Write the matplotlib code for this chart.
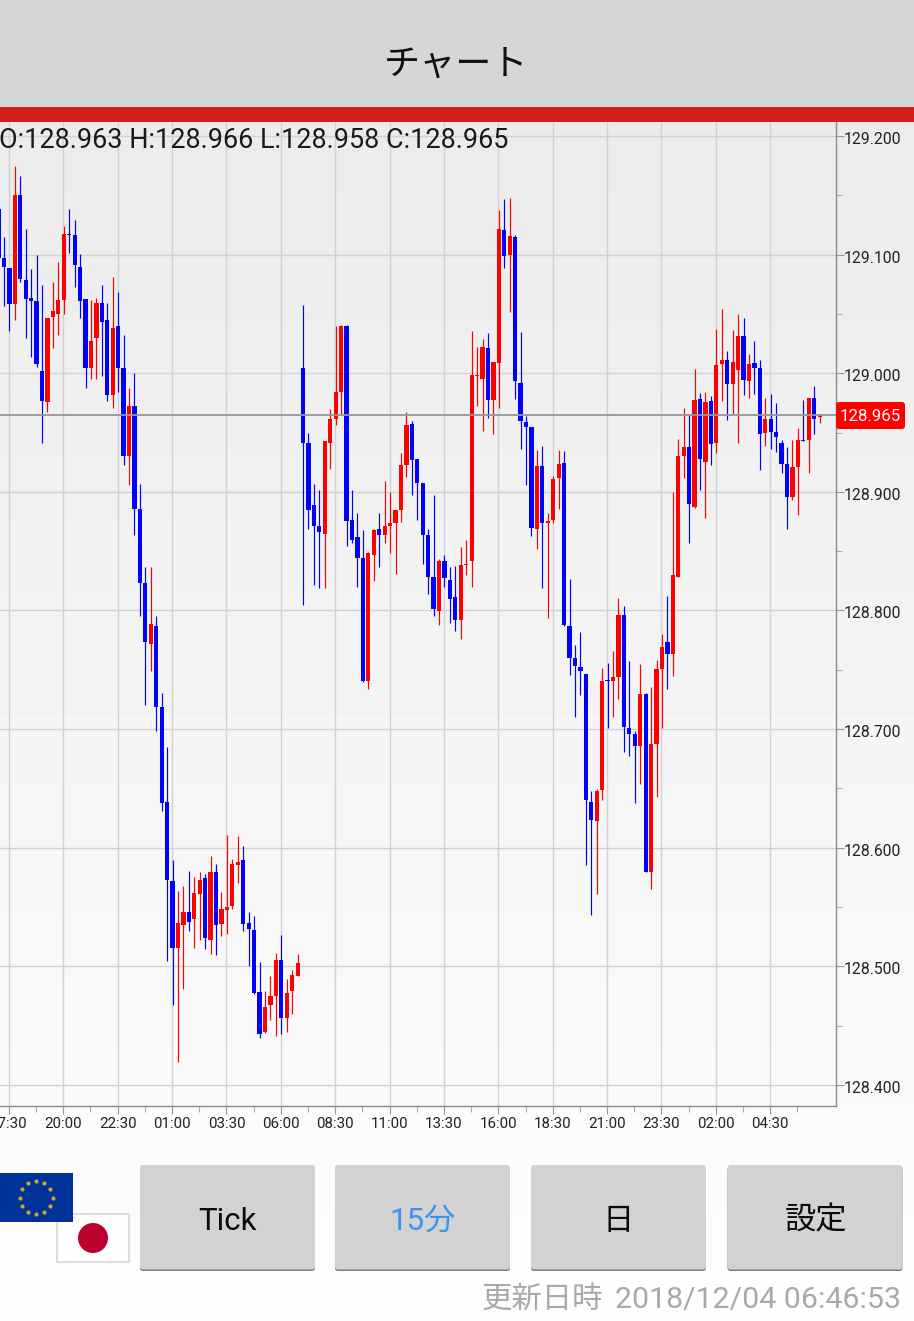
"""
Recreates the EUR/JPY 15 minute candle chart screen of the FX app.
"""
import numpy as np
import matplotlib
matplotlib.use('Agg')
import matplotlib.pyplot as plt
from matplotlib.patches import Rectangle, Circle, FancyBboxPatch
from matplotlib.transforms import ScaledTranslation

plt.rcParams['font.family'] = ['Roboto', 'Noto Sans CJK JP', 'DejaVu Sans']

W, H = 914, 1321

# Candle values
opens = [
    129.140, 129.099, 129.090, 129.060, 129.152, 129.080, 129.065, 129.062, 129.003, 128.977,
    129.049, 129.051, 129.063, 129.119, 129.118, 129.091, 129.064, 129.006, 129.031, 129.061,
    129.046, 128.983, 129.041, 129.006, 128.932, 128.974, 128.887, 128.825, 128.773, 128.788,
    128.720, 128.640, 128.573, 128.517, 128.536, 128.547, 128.541, 128.562, 128.576, 128.524,
    128.581, 128.537, 128.549, 128.552, 128.587, 128.591, 128.538, 128.532, 128.480, 128.446,
    128.469, 128.476, 128.507, 128.458, 128.481, 128.493, 129.006, 128.943, 128.890, 128.873,
    128.866, 128.943, 128.963, 128.986, 129.041, 128.878, 128.863, 128.846, 128.742, 128.848,
    128.870, 128.865, 128.873, 128.875, 128.886, 128.924, 128.959, 128.929, 128.909, 128.865,
    128.830, 128.801, 128.843, 128.827, 128.813, 128.793, 128.840, 128.843, 128.999, 128.997,
    129.023, 128.979, 129.010, 129.122, 129.101, 129.116, 128.993, 128.960, 128.956, 128.870,
    128.923, 128.875, 128.878, 128.913, 128.926, 128.788, 128.761, 128.754, 128.748, 128.640,
    128.624, 128.650, 128.743, 128.742, 128.745, 128.798, 128.702, 128.697, 128.687, 128.731,
    128.581, 128.689, 128.752, 128.775, 128.765, 128.830, 128.932, 128.939, 128.889, 128.980,
    128.927, 128.978, 128.943, 129.009, 129.013, 128.992, 129.004, 129.033, 128.995, 129.010,
    129.006, 128.951, 128.963, 128.952, 128.943, 128.925, 128.897, 128.922, 128.945, 128.945,
    128.981, 128.9645,
]
highs = [
    129.140, 129.116, 129.090, 129.176, 129.168, 129.123, 129.089, 129.101, 129.076, 129.048,
    129.078, 129.095, 129.126, 129.140, 129.131, 129.102, 129.064, 129.063, 129.065, 129.076,
    129.061, 129.083, 129.070, 129.034, 128.989, 129.002, 128.908, 128.838, 128.838, 128.797,
    128.732, 128.686, 128.591, 128.565, 128.569, 128.582, 128.577, 128.581, 128.579, 128.594,
    128.588, 128.564, 128.612, 128.592, 128.611, 128.603, 128.547, 128.544, 128.505, 128.481,
    128.493, 128.513, 128.528, 128.491, 128.498, 128.512, 129.059, 128.951, 128.908, 128.903,
    128.944, 128.971, 129.041, 129.042, 129.042, 128.903, 128.884, 128.869, 128.851, 128.870,
    128.884, 128.911, 128.901, 128.886, 128.934, 128.969, 128.961, 128.929, 128.909, 128.870,
    128.899, 128.845, 128.848, 128.838, 128.839, 128.855, 128.861, 129.037, 129.024, 129.030,
    129.035, 129.011, 129.139, 129.148, 129.149, 129.118, 129.036, 128.965, 128.956, 128.937,
    128.940, 128.884, 128.915, 128.937, 128.936, 128.828, 128.772, 128.783, 128.748, 128.649,
    128.651, 128.753, 128.757, 128.767, 128.812, 128.805, 128.759, 128.700, 128.756, 128.732,
    128.737, 128.760, 128.782, 128.814, 128.901, 128.946, 128.972, 128.966, 129.005, 128.985,
    128.986, 128.982, 129.039, 129.056, 129.020, 129.038, 129.051, 129.048, 129.018, 129.029,
    129.013, 128.981, 128.984, 128.976, 128.945, 128.939, 128.945, 128.955, 128.979, 128.981,
    128.991, 128.9675,
]
lows = [
    129.099, 129.058, 129.037, 129.046, 129.078, 129.031, 129.015, 129.007, 128.943, 128.969,
    129.023, 129.034, 129.051, 129.103, 129.074, 129.048, 128.989, 128.997, 128.997, 128.999,
    128.978, 128.972, 128.986, 128.924, 128.907, 128.865, 128.797, 128.722, 128.750, 128.700,
    128.632, 128.506, 128.469, 128.421, 128.482, 128.531, 128.517, 128.524, 128.516, 128.512,
    128.511, 128.527, 128.529, 128.550, 128.572, 128.531, 128.502, 128.478, 128.441, 128.445,
    128.456, 128.443, 128.444, 128.446, 128.461, 128.493, 128.806, 128.870, 128.823, 128.820,
    128.820, 128.921, 128.958, 128.967, 128.856, 128.858, 128.821, 128.741, 128.735, 128.826,
    128.838, 128.858, 128.850, 128.832, 128.876, 128.914, 128.899, 128.878, 128.841, 128.815,
    128.797, 128.789, 128.821, 128.791, 128.784, 128.777, 128.831, 128.821, 128.974, 128.953,
    128.964, 128.950, 128.972, 129.090, 129.053, 128.980, 128.938, 128.907, 128.864, 128.853,
    128.820, 128.795, 128.875, 128.887, 128.788, 128.747, 128.712, 128.730, 128.587, 128.545,
    128.562, 128.642, 128.702, 128.712, 128.727, 128.682, 128.679, 128.639, 128.655, 128.581,
    128.567, 128.644, 128.702, 128.735, 128.746, 128.830, 128.913, 128.858, 128.888, 128.903,
    128.879, 128.924, 128.934, 128.978, 128.962, 128.967, 128.943, 128.983, 128.981, 128.984,
    128.920, 128.940, 128.938, 128.935, 128.917, 128.870, 128.895, 128.882, 128.944, 128.917,
    128.950, 128.9595,
]
closes = [
    129.099, 129.091, 129.060, 129.152, 129.081, 129.064, 129.062, 129.009, 128.978, 129.048,
    129.054, 129.063, 129.119, 129.118, 129.093, 129.062, 129.006, 129.029, 129.061, 129.045,
    128.983, 129.040, 129.006, 128.932, 128.974, 128.887, 128.825, 128.775, 128.790, 128.720,
    128.639, 128.574, 128.517, 128.538, 128.547, 128.539, 128.563, 128.574, 128.525, 128.581,
    128.536, 128.550, 128.551, 128.588, 128.589, 128.537, 128.533, 128.479, 128.444, 128.467,
    128.476, 128.507, 128.458, 128.479, 128.494, 128.504, 128.943, 128.886, 128.873, 128.868,
    128.944, 128.963, 128.986, 129.041, 128.877, 128.861, 128.846, 128.742, 128.850, 128.869,
    128.865, 128.873, 128.875, 128.886, 128.924, 128.958, 128.928, 128.909, 128.865, 128.830,
    128.803, 128.843, 128.829, 128.811, 128.793, 128.840, 128.841, 129.000, 129.000, 129.024,
    128.979, 129.011, 129.123, 129.100, 129.117, 128.995, 128.961, 128.956, 128.871, 128.923,
    128.875, 128.877, 128.912, 128.925, 128.789, 128.761, 128.755, 128.750, 128.642, 128.625,
    128.649, 128.742, 128.742, 128.745, 128.798, 128.703, 128.697, 128.687, 128.731, 128.581,
    128.689, 128.752, 128.771, 128.765, 128.831, 128.932, 128.939, 128.891, 128.979, 128.929,
    128.977, 128.942, 129.008, 129.013, 128.992, 129.011, 129.033, 128.996, 129.009, 129.006,
    128.950, 128.963, 128.952, 128.948, 128.925, 128.897, 128.922, 128.945, 128.944, 128.981,
    128.963, 128.9665,
]

# The values above were read against a grid 1.5 pips too low
read_offset = -0.0015

# Figures printed on the screen
last_price = 128.965
ohlc_text = 'O:128.963 H:128.966 L:128.958 C:128.965'

# Time axis labels, one every 10 candles
time_labels = ['17:30', '20:00', '22:30', '01:00', '03:30', '06:00', '08:30', '11:00',
               '13:30', '16:00', '18:30', '21:00', '23:30', '02:00', '04:30']
price_ticks = [128.4, 128.5, 128.6, 128.7, 128.8, 128.9, 129.0, 129.1, 129.2]
button_labels = ['Tick', '15分', '日', '設定']

fig = plt.figure(figsize=(W / 100, H / 100), dpi=100)

# Page background gradient
ax_bg = fig.add_axes([0, 0, 1, 1], zorder=0)
ax_bg.set_axis_off()
gradient = np.interp(np.arange(H), [0, 122, 1107, H], [235, 235, 250, 254]).reshape(-1, 1)
ax_bg.imshow(gradient, cmap='gray', vmin=0, vmax=255, aspect='auto', extent=(0, W, H, 0))

# Candle chart, placed in pixels
chart_left, chart_right, chart_top, chart_bottom = 0, 836, 122, 1106
ax = fig.add_axes([chart_left / W, 1 - chart_bottom / H,
                   (chart_right - chart_left) / W, (chart_bottom - chart_top) / H], zorder=1)
ax.patch.set_alpha(0)

# candles sit half a pixel right of their time grid
idx = np.arange(len(opens)) + 0.09
opens_a = np.array(opens) + read_offset
closes_a = np.array(closes) + read_offset
highs_a = np.array(highs) + read_offset
lows_a = np.array(lows) + read_offset
colors = ['#ff0000' if c >= o else '#0000ff' for o, c in zip(opens, closes)]

ax.vlines(idx, lows_a, highs_a, colors=colors, linewidth=0.85, zorder=3)
ax.bar(idx, np.abs(closes_a - opens_a), bottom=np.minimum(opens_a, closes_a),
       width=0.78, color=colors, linewidth=0, zorder=4)

ax.axhline(last_price, color='#969696', linewidth=1.3, zorder=5)

# x position: candle 12 (20:00) sits at 63.3 px, 5.438 px per candle
ax.set_xlim((chart_left - 63.3) / 5.438 + 12, (chart_right - 63.3) / 5.438 + 12)
# y position: 129.000 sits at 373.2 px, 1186 px per yen
ax.set_ylim(129.0 - (chart_bottom - 373.2) / 1186, 129.0 + (373.2 - chart_top) / 1186)

ax.set_xticks(np.arange(2, 143, 10))
ax.set_xticklabels(time_labels, fontsize=10.8, color='#222222')
ax.set_xticks(np.arange(7, 148, 10), minor=True)
ax.yaxis.tick_right()
ax.set_yticks(price_ticks)
ax.set_yticklabels([f'{p:.3f}' for p in price_ticks], fontsize=11.3, color='#222222')
ax.set_yticks(np.arange(128.45, 129.2, 0.1), minor=True)
ax.tick_params(which='major', length=5.8, width=0.8, color='#999999')
ax.tick_params(which='minor', length=4.5, width=0.8, color='#aaaaaa')
ax.tick_params(axis='x', which='major', pad=2.0)
ax.tick_params(axis='y', which='major', pad=0)
ax.grid(True, which='major', color='#d2d2d2', linewidth=1.0, zorder=1)
ax.set_axisbelow(True)
for side in ['top', 'left']:
    ax.spines[side].set_visible(False)
for side in ['right', 'bottom']:
    ax.spines[side].set_color('#8c8c8c')
    ax.spines[side].set_linewidth(1.0)

# Price labels sit a little under their tick
label_shift = ScaledTranslation(0, -1.5 / 72, fig.dpi_scale_trans)
for label in ax.get_yticklabels():
    label.set_transform(label.get_transform() + label_shift)

# Screen furniture, drawn in pixel coordinates
ov = fig.add_axes([0, 0, 1, 1], zorder=2)
ov.set_xlim(0, W)
ov.set_ylim(H, 0)
ov.set_axis_off()
ov.patch.set_alpha(0)

ov.add_patch(Rectangle((0, 0), W, 107, color='#d6d6d6', linewidth=0))
ov.add_patch(Rectangle((0, 107), W, 15, color='#d3201a', linewidth=0))
ov.text(456.5, 65, 'チャート', ha='center', va='center', fontsize=26, color='#111111')

ov.text(-1, 140, ohlc_text, ha='left', va='center', fontsize=19.45, color='#1a1a1a')

ov.add_patch(FancyBboxPatch((836, 402), 69, 27, boxstyle='round,pad=0,rounding_size=3',
                            color='#ff0000', linewidth=0))
ov.text(870.5, 416.5, f'{last_price:.3f}', ha='center', va='center', fontsize=12.2, color='white')

# Flags
ov.add_patch(Rectangle((57, 1214), 72, 48, facecolor='white', edgecolor='#dddddd', linewidth=1.5))
ov.add_patch(Circle((93, 1238), 15, color='#bc002d', linewidth=0))
ov.add_patch(Rectangle((-1, 1173), 73.5, 49, color='#003399', linewidth=0))
star_angles = np.deg2rad(np.arange(0, 360, 30))
ov.scatter(36 + 16.5 * np.cos(star_angles), 1197.5 + 16.5 * np.sin(star_angles),
           marker='o', s=9, color='#c8a52c', linewidths=0)

# Buttons
button_left = [140, 335, 531, 727.5]
for left, label in zip(button_left, button_labels):
    ov.add_patch(FancyBboxPatch((left, 1167), 175, 104, boxstyle='round,pad=0,rounding_size=3',
                                color='#7c7c7c', linewidth=0))
    ov.add_patch(FancyBboxPatch((left, 1165), 175, 104.5, boxstyle='round,pad=0,rounding_size=3',
                                color='#d2d2d2', linewidth=0))
    text_color = '#3d93ef' if label == '15分' else '#0a0a0a'
    text_x = left + 87.5 + (1.5 if label == '設定' else 0)
    ov.text(text_x, 1221, label, ha='center', va='center', fontsize=22.5, color=text_color)

ov.text(603, 1300, '更新日時', ha='right', va='center', fontsize=21.9, color='#a9a9a9')
ov.text(901, 1300, '2018/12/04 06:46:53', ha='right', va='center', fontsize=21.85, color='#a9a9a9')

fig.savefig('out.png', dpi=100)
